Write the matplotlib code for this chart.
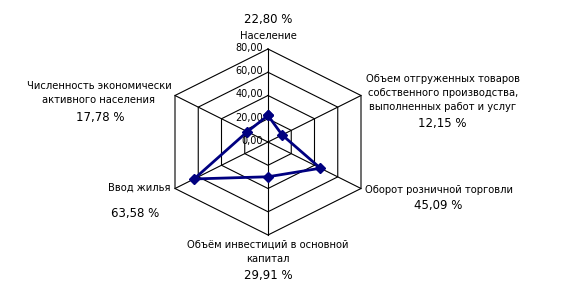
import numpy as np
import matplotlib.pyplot as plt

categories = ["Население",
              "Объем отгруженных товаров\nсобственного производства,\nвыполненных работ и услуг",
              "Оборот розничной торговли",
              "Объём инвестиций в основной\nкапитал",
              "Ввод жилья",
              "Численность экономически\nактивного населения"]
values = [22.80, 12.15, 45.09, 29.91, 63.58, 17.78]
pct_labels = ["22,80 %", "12,15 %", "45,09 %", "29,91 %", "63,58 %", "17,78 %"]
rings = [0, 20, 40, 60, 80]
ring_labels = ["0,00", "20,00", "40,00", "60,00", "80,00"]

W, H = 584, 302
fig = plt.figure(figsize=(W / 100, H / 100), dpi=100)
ax = fig.add_axes([0, 0, 1, 1])

# pixel scale: centre at (268, 142) from top-left, hexagon stretched sideways
cx, cy = 268, 142
kx = 93 / (80 * np.cos(np.pi / 6))
ky = 93 / 80
ax.set_xlim(-cx / kx, (W - cx) / kx)
ax.set_ylim(-(H - cy) / ky, cy / ky)
ax.axis("off")

n = len(categories)
ang = np.pi / 2 - np.arange(n) * 2 * np.pi / n
ang_c = np.append(ang, ang[0])

# grid
for r in rings[1:]:
    ax.plot(r * np.cos(ang_c), r * np.sin(ang_c), color="black", lw=0.8, zorder=1)
for a in ang:
    ax.plot([0, 80 * np.cos(a)], [0, 80 * np.sin(a)], color="black", lw=0.8, zorder=1)

for r, lab in zip(rings, ring_labels):
    ax.text(-5 / kx, r + 1, lab, ha="right", va="center", fontsize=7, zorder=2)

# series
v = np.append(values, values[0])
ax.plot(v * np.cos(ang_c), v * np.sin(ang_c), color="#000080", lw=2,
        marker="D", markersize=5.5, zorder=3)

def px(x, y):
    return (x - cx) / kx, (cy - y) / ky

# category labels (pixel positions)
lab_pos = [(268, 36, "center", "center"), (443, 93, "center", "center"),
           (365, 190, "left", "center"), (268, 252, "center", "center"),
           (171, 188, "right", "center"), (99, 93, "center", "center")]
pct_pos = [(268, 20), (442, 123), (438, 205), (268, 275), (135, 213), (100, 118)]

for cat, (x, y, ha, va) in zip(categories, lab_pos):
    ax.text(*px(x, y), cat, ha=ha, va=va, fontsize=7.2, linespacing=1.55)
for p, (x, y) in zip(pct_labels, pct_pos):
    ax.text(*px(x, y), p, ha="center", va="center", fontsize=8.5)

fig.savefig("out.png", dpi=100, facecolor="white")
